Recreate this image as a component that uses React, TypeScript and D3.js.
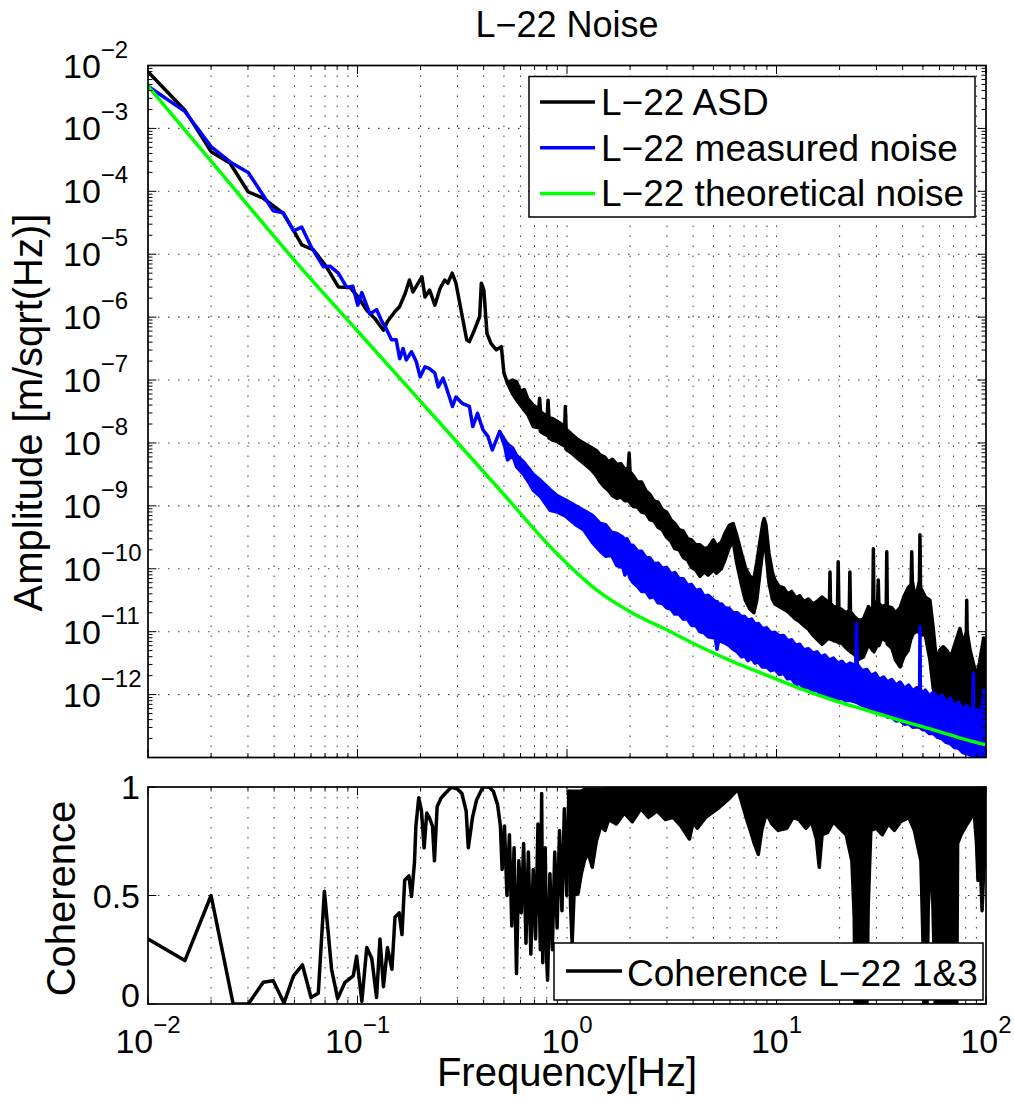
import React from 'react';
import * as d3 from 'd3';

// ---------------- data (frequency in Hz, amplitude as log10 value) ----------------
const titleText = 'L−22 Noise';
const yLabelTop = 'Amplitude [m/sqrt(Hz)]';
const yLabelBottom = 'Coherence';
const xLabel = 'Frequency[Hz]';
const legendTopLabels = ['L−22 ASD', 'L−22 measured noise', 'L−22 theoretical noise'];
const legendTopColors = ['#000000', '#0000ff', '#00ff00'];
const legendBottomLabel = 'Coherence L−22 1&3';

const xTickExponents = [-2, -1, 0, 1, 2];
const yTickExponents = [-2, -3, -4, -5, -6, -7, -8, -9, -10, -11, -12];
const cohTicks = [0, 0.5, 1];
const cohTickLabels = ['0', '0.5', '1'];

// L-22 ASD (black), thin part: [f, log10 A]
const blackLine: [number, number][] = [
  [0.01, -2.1], [0.015, -2.71], [0.02, -3.37], [0.0246, -3.55], [0.0301, -4.01], [0.0355, -4.11],
  [0.0442, -4.35], [0.0495, -4.62], [0.0542, -4.85], [0.0616, -4.93], [0.0711, -5.2], [0.081, -5.52],
  [0.0921, -5.53], [0.1008, -5.68], [0.1107, -5.89], [0.121, -6.02], [0.133, -6.21], [0.139, -6.07],
  [0.151, -5.91], [0.159, -5.83], [0.169, -5.62], [0.177, -5.41], [0.184, -5.6], [0.203, -5.36],
  [0.21, -5.68], [0.221, -5.57], [0.234, -5.81], [0.248, -5.54], [0.261, -5.41], [0.27, -5.46],
  [0.283, -5.3], [0.295, -5.46], [0.313, -5.91], [0.332, -6.36], [0.342, -6.39], [0.362, -6.2],
  [0.383, -5.99], [0.39, -5.46], [0.401, -5.57], [0.415, -6.26], [0.434, -6.42], [0.46, -6.52],
  [0.486, -6.47], [0.5, -6.89], [0.52, -7.05],
];
// L-22 ASD (black), dense part: [f, upper log10 A, lower log10 A]
const blackBand: [number, number, number][] = [
  [0.52, -7.05, -7.05], [0.55, -7.0, -7.22], [0.575, -7.03, -7.32], [0.6, -7.18, -7.4], [0.625, -7.15, -7.48],
  [0.65, -7.3, -7.55], [0.69, -7.4, -7.74], [0.733, -7.46, -7.76], [0.74, -7.29, -7.7], [0.747, -7.5, -7.82],
  [0.78, -7.55, -7.86], [0.805, -7.56, -7.88], [0.812, -7.32, -7.85], [0.82, -7.6, -7.92], [0.86, -7.62, -7.96],
  [0.9, -7.66, -7.98], [0.94, -7.7, -8.02], [0.975, -7.74, -8.05], [0.982, -7.42, -8.05], [0.99, -7.78, -8.1],
  [1.05, -7.86, -8.16], [1.12, -7.94, -8.24], [1.2, -8.0, -8.32], [1.3, -8.07, -8.42], [1.38, -8.12, -8.52],
  [1.44, -8.19, -8.62], [1.51, -8.22, -8.7], [1.58, -8.3, -8.76], [1.65, -8.26, -8.84], [1.73, -8.34, -8.88],
  [1.81, -8.33, -8.86], [1.89, -8.42, -8.92], [1.96, -8.4, -8.92], [1.98, -8.16, -8.92], [2.0, -8.46, -8.95],
  [2.07, -8.52, -9.01], [2.17, -8.62, -9.02], [2.27, -8.62, -9.1], [2.38, -8.76, -9.12], [2.49, -8.82, -9.22],
  [2.6, -8.92, -9.24], [2.72, -8.94, -9.34], [2.85, -9.06, -9.38], [2.99, -9.1, -9.5], [3.13, -9.22, -9.56],
  [3.27, -9.28, -9.68], [3.43, -9.38, -9.7], [3.59, -9.4, -9.82], [3.76, -9.52, -9.86], [3.93, -9.54, -9.98],
  [4.12, -9.62, -10.02], [4.31, -9.62, -10.12], [4.52, -9.68, -10.05], [4.72, -9.66, -10.1], [5.0, -9.54, -10.02],
  [5.17, -9.64, -10.07], [5.45, -9.58, -10.0], [5.67, -9.44, -9.86], [5.95, -9.31, -9.66], [6.21, -9.28, -9.56],
  [6.45, -9.46, -9.9], [6.81, -9.76, -10.26], [7.1, -9.98, -10.5], [7.46, -10.12, -10.64], [7.8, -10.16, -10.7],
  [8.05, -9.9, -10.5], [8.35, -9.55, -10.05], [8.6, -9.28, -9.7], [8.73, -9.2, -9.62], [8.9, -9.3, -9.72],
  [9.2, -9.75, -10.22], [9.55, -10.05, -10.48], [9.83, -10.18, -10.56], [10.3, -10.28, -10.6], [10.8, -10.3, -10.64],
  [11.3, -10.4, -10.68], [11.8, -10.36, -10.74], [12.35, -10.46, -10.8], [12.9, -10.43, -10.84], [13.5, -10.52, -10.9],
  [14.2, -10.48, -10.96], [14.9, -10.56, -11.05], [15.6, -10.52, -11.12], [16.5, -10.45, -11.2], [17.5, -10.52, -11.12],
  [17.9, -10.5, -11.1], [18.0, -10.05, -11.1], [18.1, -10.55, -11.12], [18.7, -10.6, -11.14], [19.55, -10.62, -11.16],
  [19.7, -9.89, -11.16], [19.85, -10.62, -11.18], [20.5, -10.65, -11.18], [21.5, -10.7, -11.26], [22.25, -10.66, -11.3],
  [22.4, -10.05, -11.3], [22.55, -10.68, -11.32], [23.5, -10.76, -11.36], [24.6, -10.82, -11.44], [26.0, -10.8, -11.4],
  [27.5, -10.6, -11.2], [28.8, -10.72, -11.3], [29.0, -9.68, -11.3], [29.2, -10.78, -11.32], [30.4, -10.5, -11.2],
  [30.6, -10.18, -11.2], [30.8, -10.55, -11.22], [31.8, -10.6, -11.1], [33.4, -10.58, -11.15], [33.6, -9.73, -11.15],
  [33.8, -10.6, -11.2], [35.5, -10.62, -11.26], [37.0, -10.7, -11.45], [38.9, -10.62, -11.56], [40.5, -10.45, -11.4],
  [42.5, -10.3, -11.3], [43.9, -10.25, -11.1], [44.2, -9.73, -11.1], [44.5, -10.2, -11.05], [46.0, -10.48, -11.0],
  [48.1, -10.2, -11.0], [48.4, -9.46, -11.0], [48.7, -10.3, -11.05], [51.3, -10.45, -11.05], [54.0, -10.5, -11.45],
  [56.0, -10.95, -11.9], [58.1, -11.5, -12.09], [60.0, -11.3, -12.0], [62.5, -11.24, -12.0], [65.0, -11.3, -12.1],
  [68.0, -11.4, -12.12], [71.0, -11.2, -12.2], [75.1, -10.95, -12.35], [78.0, -11.2, -12.3], [80.6, -11.0, -12.3],
  [80.9, -10.5, -12.3], [81.3, -11.0, -12.3], [84.0, -11.3, -12.35], [87.0, -11.5, -12.4], [90.2, -11.72, -12.41],
  [93.0, -11.5, -12.35], [95.3, -11.29, -12.3], [97.5, -11.1, -12.25], [100, -11.15, -12.25],
];

// L-22 measured noise (blue)
const blueLine: [number, number][] = [
  [0.01, -2.33], [0.015, -2.73], [0.02, -3.29], [0.0251, -3.55], [0.0301, -3.7], [0.0396, -4.31],
  [0.0442, -4.34], [0.0495, -4.63], [0.0542, -4.57], [0.0605, -4.9], [0.0688, -5.2], [0.0739, -5.19],
  [0.081, -5.3], [0.089, -5.53], [0.095, -5.51], [0.1003, -5.81], [0.1049, -5.61], [0.1146, -5.95],
  [0.1233, -5.88], [0.13, -6.05], [0.137, -6.18], [0.1453, -6.36], [0.153, -6.36], [0.159, -6.66],
  [0.165, -6.5], [0.171, -6.68], [0.181, -6.55], [0.191, -6.71], [0.199, -6.95], [0.21, -6.79],
  [0.221, -6.82], [0.234, -6.89], [0.243, -7.11], [0.256, -6.97], [0.265, -7.11], [0.284, -7.42],
  [0.295, -7.27], [0.316, -7.37], [0.342, -7.42], [0.355, -7.74], [0.374, -7.53], [0.397, -7.79],
  [0.42, -7.9], [0.44, -8.11], [0.477, -7.82],
];
const blueBand: [number, number, number][] = [
  [0.477, -7.82, -7.82], [0.504, -7.95, -8.05], [0.52, -8.02, -8.27], [0.55, -8.08, -8.2], [0.575, -8.2, -8.38],
  [0.62, -8.3, -8.5], [0.655, -8.4, -8.62], [0.69, -8.5, -8.75], [0.75, -8.6, -8.86], [0.83, -8.74, -9.07],
  [0.9, -8.84, -9.1], [0.99, -8.91, -9.17], [1.1, -9.0, -9.3], [1.2, -9.07, -9.38], [1.32, -9.15, -9.58],
  [1.44, -9.28, -9.72], [1.53, -9.3, -9.8], [1.63, -9.42, -9.78], [1.73, -9.44, -9.95], [1.85, -9.5, -9.98],
  [1.89, -9.56, -10.1], [1.93, -9.52, -9.98], [2.0, -9.62, -10.15], [2.07, -9.63, -10.22], [2.17, -9.72, -10.28],
  [2.27, -9.72, -10.36], [2.38, -9.82, -10.36], [2.49, -9.83, -10.46], [2.6, -9.92, -10.44], [2.72, -9.91, -10.54],
  [2.85, -9.99, -10.55], [2.99, -9.98, -10.62], [3.13, -10.08, -10.64], [3.27, -10.06, -10.72], [3.43, -10.16, -10.72],
  [3.59, -10.16, -10.8], [3.76, -10.26, -10.8], [3.93, -10.25, -10.9], [4.12, -10.35, -10.9], [4.31, -10.33, -11.0],
  [4.52, -10.44, -11.02], [4.72, -10.42, -11.08], [5.1, -10.52, -11.1], [5.2, -10.52, -11.28], [5.3, -10.56, -11.12],
  [5.48, -10.56, -11.16], [5.67, -10.62, -11.18], [5.94, -10.63, -11.22], [6.21, -10.7, -11.28], [6.5, -10.7, -11.32],
  [6.81, -10.76, -11.4], [7.05, -10.76, -11.38], [7.3, -10.82, -11.46], [7.6, -10.8, -11.42], [7.9, -10.88, -11.5],
  [8.2, -10.87, -11.48], [8.55, -10.95, -11.56], [8.97, -10.94, -11.56], [9.4, -11.02, -11.62], [9.83, -11.01, -11.6],
  [10.3, -11.07, -11.68], [10.8, -11.06, -11.66], [11.3, -11.14, -11.75], [11.8, -11.13, -11.74], [12.35, -11.22, -11.84],
  [12.9, -11.2, -11.82], [13.5, -11.29, -11.9], [14.2, -11.27, -11.88], [14.9, -11.34, -11.95], [15.6, -11.32, -11.93],
  [16.3, -11.4, -12.0], [17.0, -11.37, -11.98], [17.8, -11.45, -12.05], [18.7, -11.42, -12.03], [19.6, -11.5, -12.08],
  [20.5, -11.47, -12.06], [21.4, -11.54, -12.1], [22.4, -11.5, -12.09], [23.9, -11.54, -12.12], [24.1, -10.87, -12.12],
  [24.3, -11.52, -12.13], [25.6, -11.62, -12.17], [27.0, -11.6, -12.19], [28.3, -11.7, -12.24], [29.6, -11.66, -12.24],
  [31.0, -11.76, -12.3], [32.4, -11.72, -12.3], [33.9, -11.8, -12.36], [35.5, -11.76, -12.36], [37.2, -11.85, -12.42],
  [38.9, -11.8, -12.41], [40.8, -11.9, -12.47], [42.7, -11.85, -12.46], [44.7, -11.94, -12.52], [46.8, -11.89, -12.51],
  [48.2, -11.92, -12.52], [48.4, -10.92, -12.52], [48.6, -11.92, -12.53], [50.0, -11.98, -12.56], [51.3, -11.93, -12.56],
  [53.7, -12.02, -12.62], [56.2, -11.96, -12.62], [58.8, -12.07, -12.68], [61.6, -12.01, -12.7], [64.5, -12.12, -12.76],
  [67.5, -12.06, -12.78], [70.7, -12.18, -12.84], [74.0, -12.12, -12.85], [77.5, -12.24, -12.92], [81.1, -12.18, -12.94],
  [84.0, -12.28, -12.96], [86.7, -12.2, -12.97], [87.0, -11.66, -12.97], [87.3, -12.24, -12.98], [88.9, -12.3, -12.99],
  [92.0, -12.24, -13.0], [95.0, -12.32, -13.02], [97.4, -11.93, -13.02], [100, -11.95, -13.02],
];

// L-22 theoretical noise (green)
const greenLine: [number, number][] = [
  [0.01, -2.33], [0.02, -3.52], [0.0532, -5.2], [0.1, -6.22], [0.2, -7.34], [0.5, -8.82], [0.861, -9.7],
  [1.44, -10.38], [2.07, -10.71], [2.99, -10.97], [4.32, -11.24], [6.22, -11.48], [8.97, -11.69],
  [12.9, -11.9], [18.7, -12.09], [27.0, -12.25], [38.9, -12.41], [56.1, -12.56], [80.9, -12.72], [100, -12.8],
];

// Coherence L-22 1&3 (line part up to ~1 Hz)
const cohLine: [number, number][] = [
  [0.01, 0.3], [0.015, 0.2], [0.02, 0.5], [0.0255, 0.0], [0.0301, 0.0], [0.0355, 0.1], [0.0396, 0.107],
  [0.0446, 0.005], [0.0495, 0.13], [0.0546, 0.18], [0.06, 0.03], [0.065, 0.05], [0.0695, 0.52], [0.0752, 0.16],
  [0.0804, 0.025], [0.0872, 0.1], [0.0955, 0.13], [0.099, 0.22], [0.1049, 0.012], [0.1107, 0.26], [0.117, 0.21],
  [0.1233, 0.03], [0.128, 0.3], [0.133, 0.08], [0.139, 0.26], [0.146, 0.16], [0.151, 0.4], [0.158, 0.42],
  [0.163, 0.32], [0.168, 0.57], [0.176, 0.59], [0.181, 0.495], [0.187, 0.65], [0.19, 0.82], [0.196, 0.95],
  [0.202, 0.89], [0.208, 0.72], [0.214, 0.88], [0.22, 0.86], [0.228, 0.82], [0.233, 0.66], [0.24, 0.91],
  [0.251, 0.95], [0.262, 0.97], [0.281, 1.0], [0.301, 0.99], [0.315, 0.97], [0.33, 0.89], [0.338, 0.72],
  [0.354, 0.86], [0.37, 0.94], [0.397, 1.0], [0.425, 1.0], [0.445, 0.98], [0.466, 0.92], [0.481, 0.82],
  [0.49, 0.62], [0.503, 0.82], [0.517, 0.5], [0.531, 0.78], [0.545, 0.36], [0.559, 0.72], [0.574, 0.14],
  [0.589, 0.66], [0.605, 0.42], [0.621, 0.74], [0.637, 0.28], [0.654, 0.7], [0.672, 0.23], [0.69, 0.62],
  [0.708, 0.3], [0.727, 0.83], [0.746, 0.25], [0.757, 0.97], [0.766, 0.19], [0.787, 0.72], [0.8, 0.2],
  [0.808, 0.11], [0.829, 0.6], [0.851, 0.25], [0.874, 0.7], [0.897, 0.35], [0.921, 0.8], [0.946, 0.43],
  [0.971, 0.9], [0.997, 0.5], [1.02, 0.98],
];
// Coherence dense part: [f, upper, lower]
const cohBand: [number, number, number][] = [
  [1.02, 0.98, 0.98], [1.04, 0.98, 0.45], [1.058, 0.98, 0.28], [1.08, 0.98, 0.5], [1.13, 0.98, 0.51],
  [1.17, 0.98, 0.6], [1.21, 0.99, 0.66], [1.26, 0.99, 0.7], [1.32, 0.99, 0.63], [1.38, 0.99, 0.75],
  [1.45, 0.99, 0.82], [1.52, 0.99, 0.8], [1.58, 1.0, 0.85], [1.72, 1.0, 0.83], [1.88, 1.0, 0.88],
  [2.05, 1.0, 0.84], [2.25, 1.0, 0.9], [2.45, 1.0, 0.86], [2.69, 1.0, 0.89], [2.95, 1.0, 0.85],
  [3.21, 1.0, 0.86], [3.5, 1.0, 0.82], [3.84, 1.0, 0.76], [4.0, 1.0, 0.84], [4.19, 1.0, 0.81],
  [4.59, 1.0, 0.86], [5.24, 1.0, 0.9], [5.99, 1.0, 0.95], [6.55, 1.0, 0.99], [7.16, 1.0, 0.86],
  [7.5, 1.0, 0.8], [7.83, 1.0, 0.74], [8.19, 1.0, 0.69], [8.5, 1.0, 0.8], [8.95, 1.0, 0.88],
  [9.5, 1.0, 0.83], [10.2, 1.0, 0.8], [11.2, 1.0, 0.81], [12.0, 1.0, 0.86], [12.8, 1.0, 0.85],
  [13.8, 1.0, 0.81], [14.7, 1.0, 0.84], [15.5, 1.0, 0.76], [16.0, 1.0, 0.63], [16.5, 1.0, 0.78],
  [17.5, 1.0, 0.79], [18.7, 1.0, 0.84], [20.0, 1.0, 0.81], [21.5, 1.0, 0.78], [22.9, 1.0, 0.66],
  [23.5, 1.0, 0.4], [23.7, 1.0, 0.0], [25.0, 1.0, 0.0], [27.0, 1.0, 0.0], [27.4, 1.0, 0.45],
  [28.2, 1.0, 0.8], [30.0, 1.0, 0.81], [32.0, 1.0, 0.78], [34.2, 1.0, 0.83], [36.5, 1.0, 0.8],
  [39.1, 1.0, 0.84], [42.8, 1.0, 0.86], [45.5, 1.0, 0.8], [48.9, 1.0, 0.66], [50.0, 1.0, 0.3],
  [50.5, 1.0, 0.0], [52.3, 1.0, 0.0], [53.0, 1.0, 0.45], [55.0, 1.0, 0.7], [57.3, 1.0, 0.0],
  [60.0, 1.0, 0.0], [65.0, 1.0, 0.0], [72.5, 1.0, 0.0], [73.2, 1.0, 0.74], [76.0, 1.0, 0.78],
  [80.1, 1.0, 0.82], [84.0, 1.0, 0.85], [87.6, 1.0, 0.89], [90.0, 1.0, 0.75], [91.6, 1.0, 0.57],
  [93.5, 1.0, 0.7], [95.8, 1.0, 0.43], [97.5, 1.0, 0.62], [100, 1.0, 0.66],
];

// ---------------- layout ----------------
const W = 1014;
const H = 1104;
const L = 148;
const R = 986;
const T1 = 65.5;
const B1 = 757.5;
const T2 = 787;
const B2 = 1004;
const FONT = '"Liberation Sans", Arial, Helvetica, sans-serif';
const MAJOR = 8.4;
const MINOR = 4.5;
const GRID = { stroke: '#444', strokeWidth: 1.1, strokeDasharray: '1.5 8.5' };

const x = d3.scaleLog().domain([0.01, 100]).range([L, R]);
const y1 = d3.scaleLog().domain([1e-13, 1e-2]).range([B1, T1]);
const y2 = d3.scaleLinear().domain([0, 1]).range([B2, T2]);

const xMinor: number[] = [];
for (let d = -2; d < 2; d++) for (let k = 2; k <= 9; k++) xMinor.push(k * Math.pow(10, d));
const yMinor: number[] = [];
for (let d = -13; d < -2; d++) for (let k = 2; k <= 9; k++) yMinor.push(k * Math.pow(10, d));

const sup = (e: number) => (e < 0 ? '−' + Math.abs(e) : String(e));

export default function App() {
  const lineTop = d3.line<[number, number]>().x((d) => x(d[0])).y((d) => y1(Math.pow(10, d[1])));
  const areaTop = d3
    .area<[number, number, number]>()
    .x((d) => x(d[0]))
    .y0((d) => y1(Math.pow(10, d[2])))
    .y1((d) => y1(Math.pow(10, d[1])));
  const greenPath = d3
    .line<[number, number]>()
    .x((d) => x(d[0]))
    .y((d) => y1(Math.pow(10, d[1])))
    .curve(d3.curveMonotoneX);
  const lineBot = d3.line<[number, number]>().x((d) => x(d[0])).y((d) => y2(d[1]));
  const areaBot = d3
    .area<[number, number, number]>()
    .x((d) => x(d[0]))
    .y0((d) => y2(d[2]))
    .y1((d) => y2(d[1]));

  const lw = 3.5;
  const xMajorInner = xTickExponents.slice(1, -1).map((e) => Math.pow(10, e));
  const yMajorInner = yTickExponents.slice(1).map((e) => Math.pow(10, e));

  const xTicks = (top: number, bottom: number) => (
    <g stroke="#000" strokeWidth={1}>
      {xTickExponents.map((e) => {
        const px = x(Math.pow(10, e));
        return (
          <g key={'M' + e}>
            <line x1={px} x2={px} y1={bottom} y2={bottom - MAJOR} />
            <line x1={px} x2={px} y1={top} y2={top + MAJOR} />
          </g>
        );
      })}
      {xMinor.map((f, i) => (
        <g key={'m' + i}>
          <line x1={x(f)} x2={x(f)} y1={bottom} y2={bottom - MINOR} />
          <line x1={x(f)} x2={x(f)} y1={top} y2={top + MINOR} />
        </g>
      ))}
    </g>
  );

  return (
    <svg
      width={W}
      height={H}
      viewBox={`0 0 ${W} ${H}`}
      style={{ position: 'absolute', left: 0, top: 0, background: '#fff' }}
      fontFamily={FONT}
    >
      <defs>
        <clipPath id="clipTop">
          <rect x={L} y={T1} width={R - L} height={B1 - T1} />
        </clipPath>
        <clipPath id="clipBot">
          <rect x={L} y={T2} width={R - L} height={B2 - T2} />
        </clipPath>
      </defs>
      <rect x={0} y={0} width={W} height={H} fill="#fff" />

      {/* title */}
      <text x={(L + R) / 2} y={37} textAnchor="middle" fontSize={36}>
        {titleText}
      </text>

      {/* ---------- top panel ---------- */}
      <g>
        {xMinor.concat(xMajorInner).map((f, i) => (
          <line key={'gx' + i} x1={x(f)} x2={x(f)} y1={T1} y2={B1} {...GRID} />
        ))}
        {yMajorInner.map((v, i) => (
          <line key={'gy' + i} x1={L} x2={R} y1={y1(v)} y2={y1(v)} {...GRID} />
        ))}
      </g>
      <g clipPath="url(#clipTop)" strokeLinejoin="round" strokeLinecap="round">
        <path d={lineTop(blackLine) || ''} fill="none" stroke="#000" strokeWidth={lw} />
        <path d={areaTop(blackBand) || ''} fill="#000" stroke="#000" strokeWidth={lw} />
        <path d={lineTop(blueLine) || ''} fill="none" stroke="#0000ff" strokeWidth={lw} />
        <path d={areaTop(blueBand) || ''} fill="#0000ff" stroke="#0000ff" strokeWidth={lw} />
        <path d={greenPath(greenLine) || ''} fill="none" stroke="#00ff00" strokeWidth={lw} />
      </g>
      {xTicks(T1, B1)}
      <g stroke="#000" strokeWidth={1}>
        {yTickExponents.map((e) => {
          const py = y1(Math.pow(10, e));
          return (
            <g key={'yt' + e}>
              <line x1={L} x2={L + MAJOR} y1={py} y2={py} />
              <line x1={R} x2={R - MAJOR} y1={py} y2={py} />
            </g>
          );
        })}
        {yMinor.map((v, i) => (
          <g key={'ym' + i}>
            <line x1={L} x2={L + MINOR} y1={y1(v)} y2={y1(v)} />
            <line x1={R} x2={R - MINOR} y1={y1(v)} y2={y1(v)} />
          </g>
        ))}
      </g>
      <rect x={L} y={T1} width={R - L} height={B1 - T1} fill="none" stroke="#000" strokeWidth={1.7} />
      {yTickExponents.map((e) => (
        <text key={'yl' + e} x={63} y={y1(Math.pow(10, e)) + 12} fontSize={34}>
          10
          <tspan dy={-20} fontSize={24}>
            {sup(e)}
          </tspan>
        </text>
      ))}
      <text transform={`translate(42,${(T1 + B1) / 2 + 1}) rotate(-90)`} textAnchor="middle" fontSize={40}>
        {yLabelTop}
      </text>

      {/* top legend */}
      <g>
        <rect x={529} y={76.5} width={446} height={140.5} fill="#fff" stroke="#000" strokeWidth={1.5} />
        {legendTopLabels.map((lab, i) => {
          const ry = 102 + i * 45.7;
          return (
            <g key={lab}>
              <line x1={540} x2={595} y1={ry} y2={ry} stroke={legendTopColors[i]} strokeWidth={lw} />
              <text x={601} y={ry + 13} fontSize={37}>
                {lab}
              </text>
            </g>
          );
        })}
      </g>

      {/* ---------- bottom panel ---------- */}
      <g>
        {xMinor.concat(xMajorInner).map((f, i) => (
          <line key={'bgx' + i} x1={x(f)} x2={x(f)} y1={T2} y2={B2} {...GRID} />
        ))}
        <line x1={L} x2={R} y1={y2(0.5)} y2={y2(0.5)} {...GRID} />
      </g>
      <g clipPath="url(#clipBot)" strokeLinejoin="round" strokeLinecap="round">
        <path d={lineBot(cohLine) || ''} fill="none" stroke="#000" strokeWidth={lw} />
        <path d={areaBot(cohBand) || ''} fill="#000" stroke="#000" strokeWidth={lw} />
      </g>
      {xTicks(T2, B2)}
      <g stroke="#000" strokeWidth={1}>
        {cohTicks.map((v) => (
          <g key={'ct' + v}>
            <line x1={L} x2={L + MAJOR} y1={y2(v)} y2={y2(v)} />
            <line x1={R} x2={R - MAJOR} y1={y2(v)} y2={y2(v)} />
          </g>
        ))}
      </g>
      <rect x={L} y={T2} width={R - L} height={B2 - T2} fill="none" stroke="#000" strokeWidth={1.7} />
      {cohTicks.map((v, i) => (
        <text key={'cl' + v} x={140} y={Math.min(y2(v) + 12, B2 + 3)} textAnchor="end" fontSize={34}>
          {cohTickLabels[i]}
        </text>
      ))}
      <text transform={`translate(75,${(T2 + B2) / 2 + 3}) rotate(-90)`} textAnchor="middle" fontSize={40}>
        {yLabelBottom}
      </text>

      {/* bottom legend */}
      <g>
        <rect x={554} y={943} width={429} height={57} fill="#fff" stroke="#000" strokeWidth={1.5} />
        <line x1={566} x2={622} y1={971} y2={971} stroke="#000" strokeWidth={lw} />
        <text x={627} y={986} fontSize={37}>
          {legendBottomLabel}
        </text>
      </g>

      {/* x tick labels and label */}
      {xTickExponents.map((e) => (
        <text key={'xl' + e} x={x(Math.pow(10, e))} y={1053} textAnchor="middle" fontSize={34}>
          10
          <tspan dy={-20} fontSize={24}>
            {sup(e)}
          </tspan>
        </text>
      ))}
      <text x={(L + R) / 2} y={1086} textAnchor="middle" fontSize={40}>
        {xLabel}
      </text>
    </svg>
  );
}
